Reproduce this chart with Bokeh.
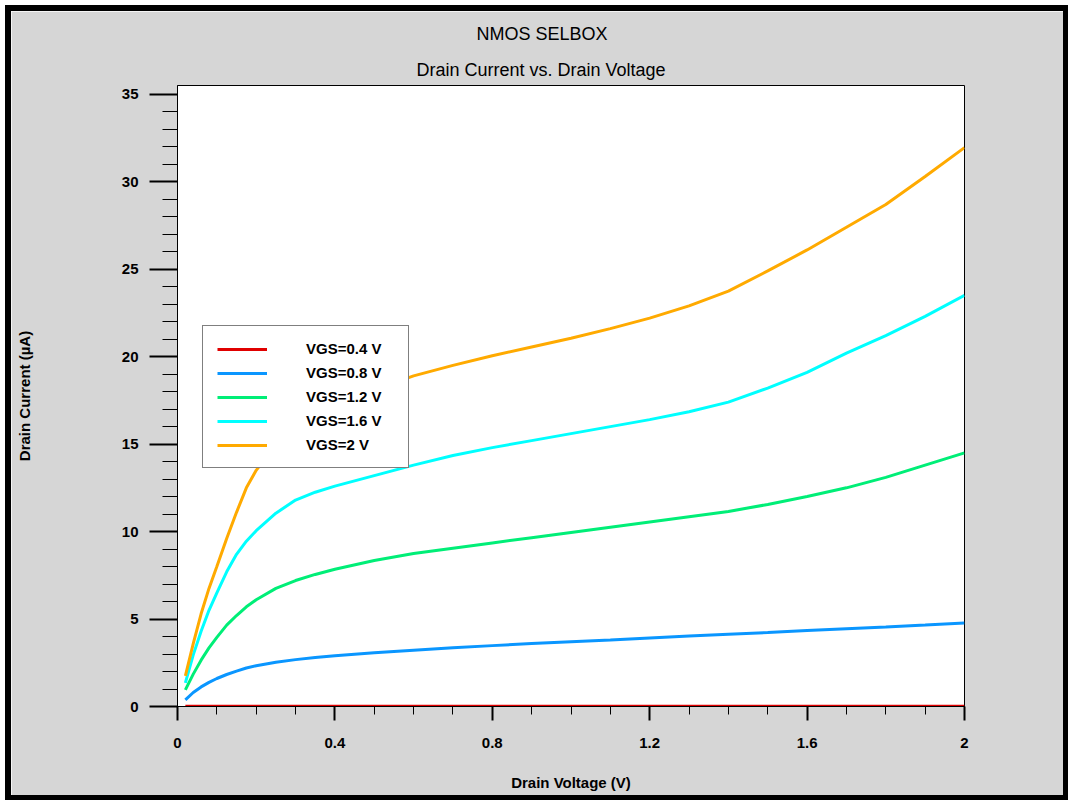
from bokeh.plotting import figure
from bokeh.models import (Title, Legend, LegendItem, Range1d, SingleIntervalTicker,
                          CustomJSTickFormatter)
from bokeh.embed import file_html
from bokeh.resources import INLINE

# ---------------- data ----------------
vd = [0.02, 0.04, 0.06, 0.08, 0.1, 0.125, 0.15, 0.175, 0.2, 0.25, 0.3, 0.35, 0.4,
      0.5, 0.6, 0.7, 0.8, 0.9, 1.0, 1.1, 1.2, 1.3, 1.4, 1.5, 1.6, 1.7, 1.8, 1.9, 2.0]

id_vgs04 = [0.01, 0.01, 0.01, 0.01, 0.01, 0.01, 0.01, 0.01, 0.01, 0.01, 0.01, 0.01,
            0.01, 0.01, 0.01, 0.01, 0.01, 0.01, 0.01, 0.01, 0.01, 0.01, 0.01, 0.01,
            0.01, 0.01, 0.01, 0.01, 0.01]
id_vgs08 = [0.38, 0.8, 1.12, 1.38, 1.6, 1.83, 2.02, 2.2, 2.33, 2.53, 2.68, 2.8, 2.9,
            3.07, 3.22, 3.36, 3.48, 3.6, 3.7, 3.8, 3.92, 4.03, 4.13, 4.23, 4.34,
            4.45, 4.55, 4.66, 4.78]
id_vgs12 = [0.95, 1.85, 2.65, 3.35, 3.95, 4.65, 5.2, 5.7, 6.1, 6.75, 7.2, 7.55, 7.85,
            8.35, 8.75, 9.05, 9.35, 9.65, 9.95, 10.25, 10.55, 10.85, 11.15, 11.55,
            12.0, 12.5, 13.1, 13.8, 14.5]
id_vgs16 = [1.35, 2.95, 4.3, 5.5, 6.5, 7.7, 8.7, 9.45, 10.05, 11.05, 11.8, 12.25, 12.6,
            13.2, 13.8, 14.35, 14.8, 15.2, 15.6, 16.0, 16.4, 16.85, 17.4, 18.2,
            19.1, 20.2, 21.2, 22.3, 23.5]
id_vgs20 = [1.75, 3.6, 5.3, 6.75, 8.0, 9.6, 11.1, 12.5, 13.5, 15.0, 16.0, 16.65, 17.2,
            18.1, 18.9, 19.5, 20.05, 20.55, 21.05, 21.6, 22.2, 22.9, 23.75, 24.9,
            26.1, 27.4, 28.7, 30.3, 31.95]

series_labels = ["VGS=0.4 V", "VGS=0.8 V", "VGS=1.2 V", "VGS=1.6 V", "VGS=2 V"]
series_values = [id_vgs04, id_vgs08, id_vgs12, id_vgs16, id_vgs20]
series_colors = ["#e00000", "#0a96ff", "#00ee77", "#00ffff", "#ffaa00"]

main_title = "NMOS SELBOX"
sub_title = "Drain Current vs. Drain Voltage"
x_label = "Drain Voltage (V)"
y_label = "Drain Current (\u00b5A)"

FONT = "Liberation Sans"

# ---------------- figure ----------------
p = figure(width=1052, height=784, output_backend="svg", toolbar_location=None,
           x_range=Range1d(0, 2), y_range=Range1d(0, 35.5),
           title=main_title,
           min_border_left=166, min_border_right=111,
           min_border_top=74, min_border_bottom=101,
           background_fill_color="white", border_fill_color="#d6d6d6")
p.styles = {"border": "6px solid black", "margin-left": "5px", "margin-top": "5px",
            "box-sizing": "content-box"}
p.outline_line_color = "black"
p.outline_line_width = 1
p.grid.visible = False

p.title.align = "left"
p.title.offset = 299
p.title.text_font = FONT
p.title.text_font_size = "18px"
p.title.text_font_style = "normal"
p.title.text_color = "black"
p.title.standoff = 16

t2 = Title(text=sub_title, align="left", offset=239, text_font=FONT,
           text_font_size="18px", text_font_style="normal", text_color="black",
           standoff=12)
p.add_layout(t2, "above")

renderers = []
for vals, col in zip(series_values, series_colors):
    r = p.line(vd, vals, line_color=col, line_width=3)
    renderers.append(r)

# axes
p.xaxis.ticker = SingleIntervalTicker(interval=0.4, num_minor_ticks=4)
p.xaxis.formatter = CustomJSTickFormatter(code="return tick.toFixed(1).replace(/\\.0$/, '');")
p.yaxis.ticker = SingleIntervalTicker(interval=5, num_minor_ticks=5)

for ax in (p.xaxis[0], p.yaxis[0]):
    ax.axis_line_color = "black"
    ax.major_tick_line_color = "black"
    ax.minor_tick_line_color = "black"
    ax.major_tick_line_width = 2
    ax.minor_tick_line_width = 1
    ax.major_tick_in = 0
    ax.minor_tick_in = 0
    ax.major_label_text_font = FONT
    ax.major_label_text_font_style = "bold"
    ax.major_label_text_font_size = "15px"
    ax.major_label_text_color = "black"
    ax.axis_label_text_font = FONT
    ax.axis_label_text_font_style = "bold"
    ax.axis_label_text_font_size = "15px"
    ax.axis_label_text_color = "black"

p.xaxis.axis_label = x_label
p.xaxis.major_tick_out = 14
p.xaxis.minor_tick_out = 8
p.xaxis.major_label_standoff = 17
p.xaxis.axis_label_standoff = 23

p.yaxis.axis_label = y_label
p.yaxis.major_tick_out = 28
p.yaxis.minor_tick_out = 15
p.yaxis.major_label_standoff = 11
p.yaxis.axis_label_standoff = 86

legend = Legend(
    items=[LegendItem(label=lab, renderers=[r]) for lab, r in zip(series_labels, renderers)],
    location=(25, 238),
    border_line_color="black", border_line_width=1,
    background_fill_color="white", background_fill_alpha=1,
    label_text_font=FONT, label_text_font_style="bold", label_text_font_size="15px",
    label_text_color="black",
    glyph_width=50, glyph_height=16, label_height=16, spacing=7, padding=14,
    label_standoff=39, label_width=88, margin=0,
)
p.add_layout(legend)

open("out.html", "w").write(file_html(p, INLINE))
